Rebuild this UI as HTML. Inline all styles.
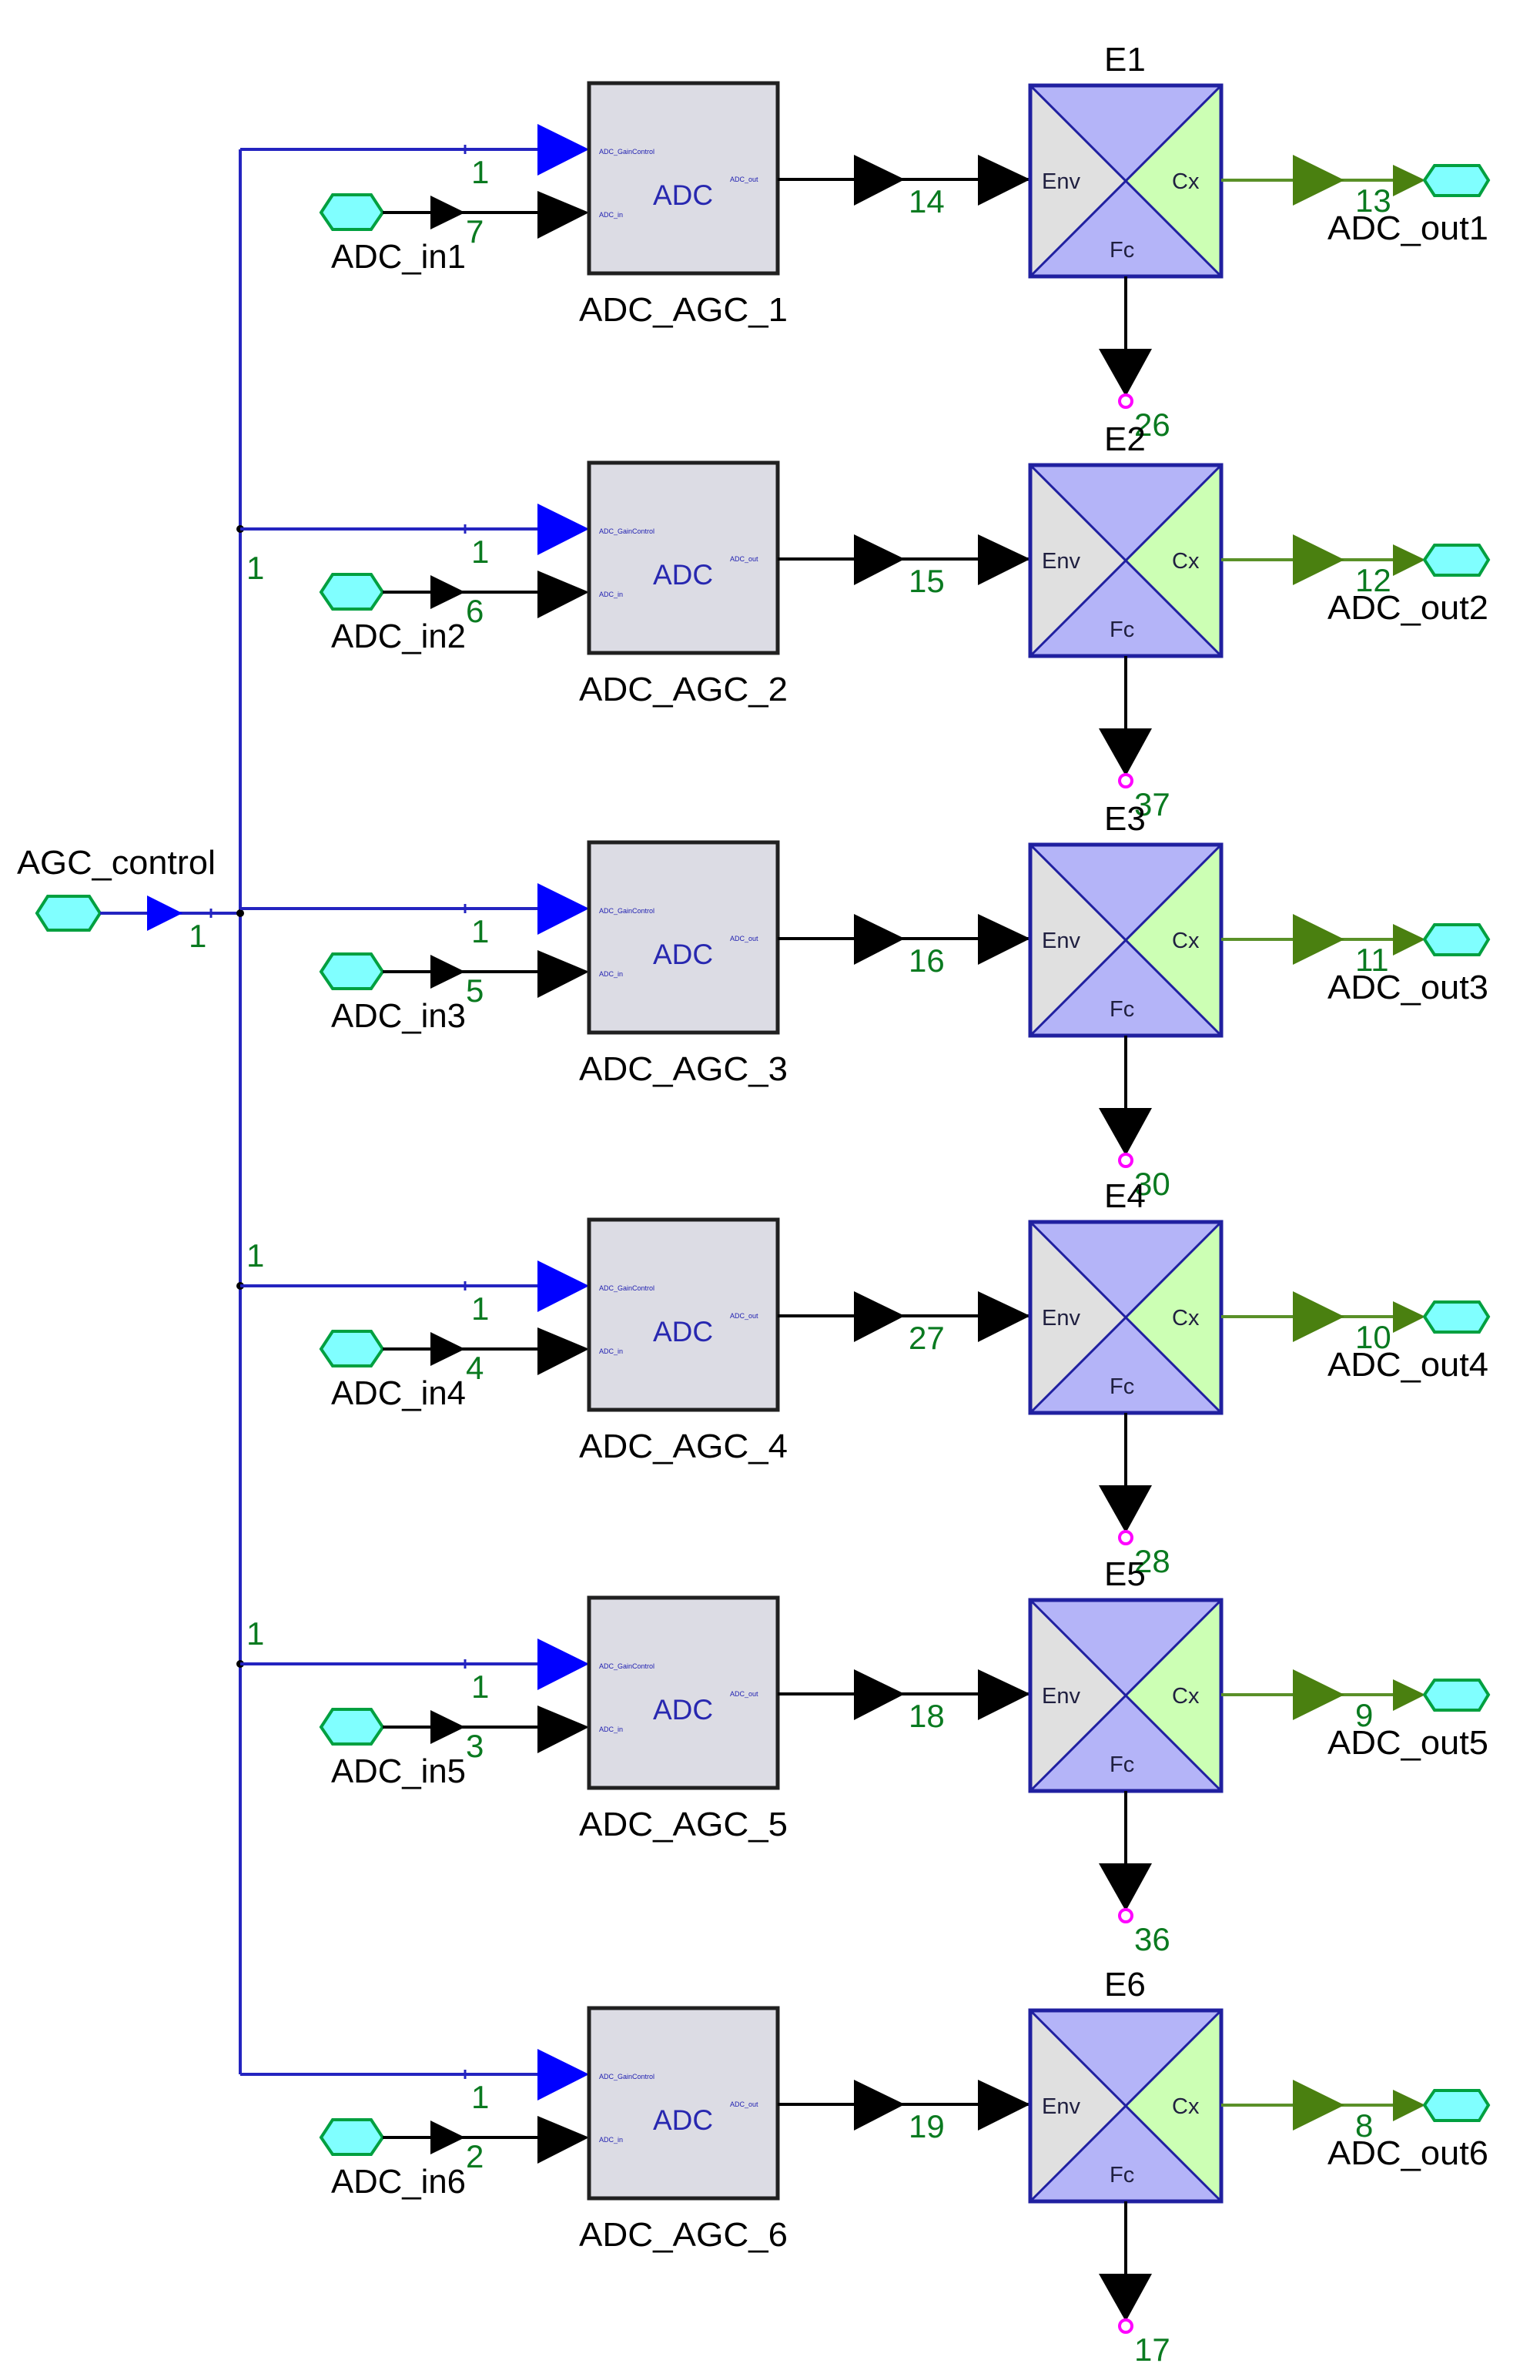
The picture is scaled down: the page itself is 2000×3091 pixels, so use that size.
<!DOCTYPE html>
<html><head><meta charset="utf-8"><style>
html,body{margin:0;padding:0;background:#fff;}
svg{display:block;}
text{font-family:"Liberation Sans",Arial,sans-serif;}
.lbl{font-size:44px;fill:#000;}
.num{font-size:42px;fill:#0a7a20;}
.tiny{font-size:9px;fill:#2020b0;}
.adc{font-size:37px;fill:#2828b0;}
.port{font-size:29px;fill:#202040;}
</style></head><body>
<svg width="2000" height="3091" viewBox="0 0 2000 3091" xmlns="http://www.w3.org/2000/svg">
<defs>
<g id="row">
  <line x1="312" y1="194" x2="700" y2="194" stroke="#2424c0" stroke-width="4"/>
  <line x1="604" y1="188" x2="604" y2="200" stroke="#2424c0" stroke-width="3"/>
  <polygon points="698,161 765,194 698,228" fill="#0000ff"/>
  <polygon points="417,276 432,253 482,253 497,276 482,298 432,298" fill="#80ffff" stroke="#00a040" stroke-width="4"/>
  <line x1="497" y1="276" x2="700" y2="276" stroke="#000" stroke-width="4"/>
  <polygon points="559,254 604,276 559,298" fill="#000"/>
  <polygon points="698,248 765,276 698,310" fill="#000"/>
  <rect x="765" y="108" width="245" height="247" fill="#dcdce4" stroke="#202020" stroke-width="5"/>
  <text x="778" y="200" class="tiny">ADC_GainControl</text>
  <text x="778" y="282" class="tiny">ADC_in</text>
  <text x="948" y="236" class="tiny">ADC_out</text>
  <text x="848" y="266" class="adc">ADC</text>
  <line x1="1010" y1="233" x2="1338" y2="233" stroke="#000" stroke-width="4"/>
  <polygon points="1109,201 1175,233 1109,267" fill="#000"/>
  <polygon points="1270,201 1338,233 1270,267" fill="#000"/>
  <polygon points="1338,111 1462,235 1338,359" fill="#e0e0e0"/>
  <polygon points="1338,111 1586,111 1462,235" fill="#b4b4f8"/>
  <polygon points="1338,359 1586,359 1462,235" fill="#b4b4f8"/>
  <polygon points="1586,111 1586,359 1462,235" fill="#ccffb4"/>
  <line x1="1338" y1="111" x2="1586" y2="359" stroke="#2020a0" stroke-width="3"/>
  <line x1="1586" y1="111" x2="1338" y2="359" stroke="#2020a0" stroke-width="3"/>
  <rect x="1338" y="111" width="248" height="248" fill="none" stroke="#2020a0" stroke-width="5"/>
  <text x="1353" y="245" class="port">Env</text>
  <text x="1522" y="245" class="port">Cx</text>
  <text x="1441" y="334" class="port">Fc</text>
  <line x1="1586" y1="234" x2="1812" y2="234" stroke="#5a9028" stroke-width="4"/>
  <polygon points="1679,201 1746,234 1679,267" fill="#4a8010"/>
  <polygon points="1809,214 1851,234 1809,255" fill="#4a8010"/>
  <polygon points="1850,234 1863,215 1921,215 1933,234 1921,254 1863,254" fill="#80ffff" stroke="#00a040" stroke-width="4"/>
  <line x1="1462" y1="359" x2="1462" y2="455" stroke="#000" stroke-width="4"/>
  <polygon points="1427,453 1496,453 1462,515" fill="#000"/>
  <circle cx="1462" cy="521" r="8" fill="none" stroke="#ff00ff" stroke-width="4"/>
</g>
</defs>

<!-- left bus -->
<line x1="312" y1="194" x2="312" y2="2694" stroke="#2424c0" stroke-width="4"/>
<polygon points="48,1186 62,1164 116,1164 130,1186 116,1208 62,1208" fill="#80ffff" stroke="#00a040" stroke-width="4"/>
<line x1="130" y1="1186" x2="312" y2="1186" stroke="#2424c0" stroke-width="4"/>
<polygon points="191,1163 237,1186 191,1209" fill="#0000ff"/>
<line x1="274" y1="1180" x2="274" y2="1192" stroke="#2424c0" stroke-width="3"/>
<text x="22" y="1135" class="lbl" textLength="258" lengthAdjust="spacingAndGlyphs">AGC_control</text>
<text x="245" y="1230" class="num">1</text>
<circle cx="312" cy="687" r="5" fill="#000"/>
<circle cx="312" cy="1186" r="5" fill="#000"/>
<circle cx="312" cy="1670" r="5" fill="#000"/>
<circle cx="312" cy="2161" r="5" fill="#000"/>
<text x="320" y="752" class="num">1</text>
<text x="320" y="1645" class="num">1</text>
<text x="320" y="2136" class="num">1</text>

<!-- row 1 -->
<g transform="translate(0,0)">
<use href="#row"/>
<text x="612" y="238" class="num">1</text>
<text x="605" y="315" class="num">7</text>
<text x="430" y="348" class="lbl" textLength="175" lengthAdjust="spacingAndGlyphs">ADC_in1</text>
<text x="752" y="417" class="lbl" textLength="271" lengthAdjust="spacingAndGlyphs">ADC_AGC_1</text>
<text x="1180" y="276" class="num">14</text>
<text x="1434" y="92" class="lbl">E1</text>
<text x="1760" y="275" class="num">13</text>
<text x="1724" y="311" class="lbl" textLength="209" lengthAdjust="spacingAndGlyphs">ADC_out1</text>
<text x="1473" y="566" class="num">26</text>
</g>
<!-- row 2 -->
<g transform="translate(0,493)">
<use href="#row"/>
<text x="612" y="238" class="num">1</text>
<text x="605" y="315" class="num">6</text>
<text x="430" y="348" class="lbl" textLength="175" lengthAdjust="spacingAndGlyphs">ADC_in2</text>
<text x="752" y="417" class="lbl" textLength="271" lengthAdjust="spacingAndGlyphs">ADC_AGC_2</text>
<text x="1180" y="276" class="num">15</text>
<text x="1434" y="92" class="lbl">E2</text>
<text x="1760" y="275" class="num">12</text>
<text x="1724" y="311" class="lbl" textLength="209" lengthAdjust="spacingAndGlyphs">ADC_out2</text>
<text x="1473" y="566" class="num">37</text>
</g>
<!-- row 3 -->
<g transform="translate(0,986)">
<use href="#row"/>
<text x="612" y="238" class="num">1</text>
<text x="605" y="315" class="num">5</text>
<text x="430" y="348" class="lbl" textLength="175" lengthAdjust="spacingAndGlyphs">ADC_in3</text>
<text x="752" y="417" class="lbl" textLength="271" lengthAdjust="spacingAndGlyphs">ADC_AGC_3</text>
<text x="1180" y="276" class="num">16</text>
<text x="1434" y="92" class="lbl">E3</text>
<text x="1760" y="275" class="num">11</text>
<text x="1724" y="311" class="lbl" textLength="209" lengthAdjust="spacingAndGlyphs">ADC_out3</text>
<text x="1473" y="566" class="num">30</text>
</g>
<!-- row 4 -->
<g transform="translate(0,1476)">
<use href="#row"/>
<text x="612" y="238" class="num">1</text>
<text x="605" y="315" class="num">4</text>
<text x="430" y="348" class="lbl" textLength="175" lengthAdjust="spacingAndGlyphs">ADC_in4</text>
<text x="752" y="417" class="lbl" textLength="271" lengthAdjust="spacingAndGlyphs">ADC_AGC_4</text>
<text x="1180" y="276" class="num">27</text>
<text x="1434" y="92" class="lbl">E4</text>
<text x="1760" y="275" class="num">10</text>
<text x="1724" y="311" class="lbl" textLength="209" lengthAdjust="spacingAndGlyphs">ADC_out4</text>
<text x="1473" y="566" class="num">28</text>
</g>
<!-- row 5 -->
<g transform="translate(0,1967)">
<use href="#row"/>
<text x="612" y="238" class="num">1</text>
<text x="605" y="315" class="num">3</text>
<text x="430" y="348" class="lbl" textLength="175" lengthAdjust="spacingAndGlyphs">ADC_in5</text>
<text x="752" y="417" class="lbl" textLength="271" lengthAdjust="spacingAndGlyphs">ADC_AGC_5</text>
<text x="1180" y="276" class="num">18</text>
<text x="1434" y="92" class="lbl">E5</text>
<text x="1760" y="275" class="num">9</text>
<text x="1724" y="311" class="lbl" textLength="209" lengthAdjust="spacingAndGlyphs">ADC_out5</text>
<text x="1473" y="566" class="num">36</text>
</g>
<!-- row 6 -->
<g transform="translate(0,2500)">
<use href="#row"/>
<text x="612" y="238" class="num">1</text>
<text x="605" y="315" class="num">2</text>
<text x="430" y="348" class="lbl" textLength="175" lengthAdjust="spacingAndGlyphs">ADC_in6</text>
<text x="752" y="417" class="lbl" textLength="271" lengthAdjust="spacingAndGlyphs">ADC_AGC_6</text>
<text x="1180" y="276" class="num">19</text>
<text x="1434" y="92" class="lbl">E6</text>
<text x="1760" y="275" class="num">8</text>
<text x="1724" y="311" class="lbl" textLength="209" lengthAdjust="spacingAndGlyphs">ADC_out6</text>
<text x="1473" y="566" class="num">17</text>
</g>
</svg>
</body></html>
